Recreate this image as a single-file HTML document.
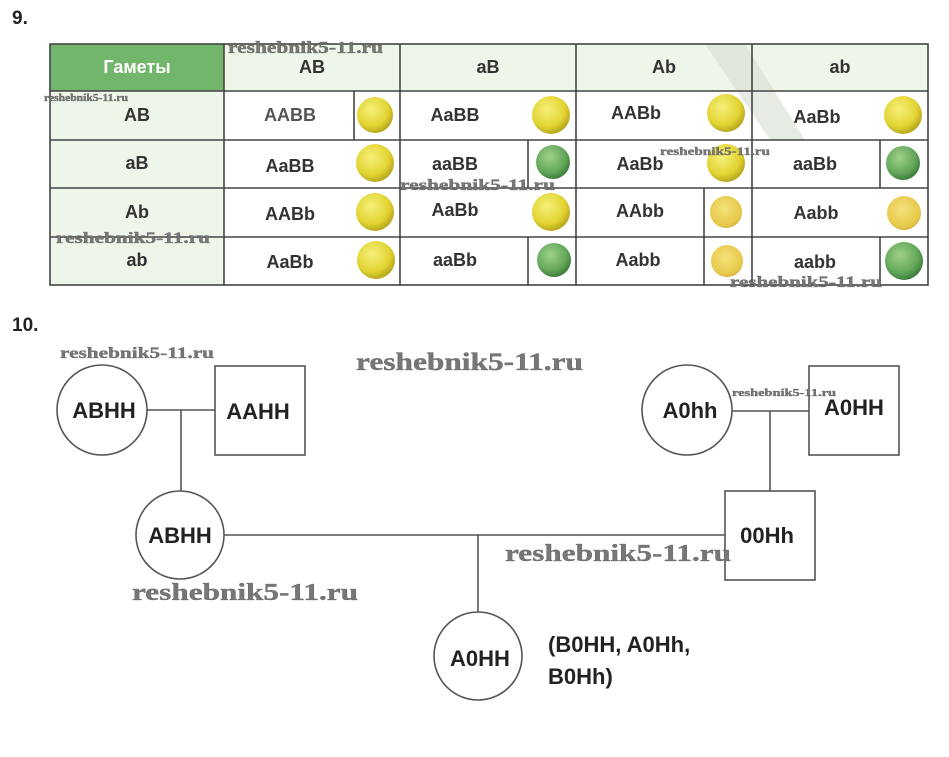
<!DOCTYPE html>
<html><head><meta charset="utf-8"><style>
html,body{margin:0;padding:0;background:#fff;}
body{width:949px;height:757px;overflow:hidden;position:relative;font-family:"Liberation Sans",sans-serif;}
</style></head><body>
<svg width="949" height="757" viewBox="0 0 949 757" xmlns="http://www.w3.org/2000/svg" style="position:absolute;left:0;top:0">
<defs>
<radialGradient id="y" cx="40%" cy="35%" r="65%"><stop offset="0" stop-color="#f6f07a"/><stop offset="0.7" stop-color="#e2d434"/><stop offset="1" stop-color="#b9a91e"/></radialGradient>
<radialGradient id="g" cx="40%" cy="35%" r="65%"><stop offset="0" stop-color="#9fd08a"/><stop offset="0.7" stop-color="#64a85a"/><stop offset="1" stop-color="#3f7f3c"/></radialGradient>
<radialGradient id="w" cx="45%" cy="40%" r="65%"><stop offset="0" stop-color="#f3e27a"/><stop offset="0.8" stop-color="#e6c84a"/><stop offset="1" stop-color="#c9a636"/></radialGradient>
</defs>
<text x="12" y="24" font-size="19" font-weight="bold" font-family="Liberation Sans" fill="#222">9.</text>
<text x="12" y="331" font-size="19" font-weight="bold" font-family="Liberation Sans" fill="#222">10.</text>
<rect x="50" y="44" width="174" height="47" fill="#72b66b"/>
<rect x="224" y="44" width="704" height="47" fill="#eef5e9"/>
<rect x="50" y="91" width="174" height="194" fill="#eef6ea"/>
<polygon points="705,44 745,44 805,140 770,140" fill="#d5dfd2" opacity="0.6"/>
<g stroke="#444" stroke-width="1.6" fill="none">
<rect x="50" y="44" width="878" height="241"/>
<line x1="50" y1="91" x2="928" y2="91"/>
<line x1="50" y1="140" x2="928" y2="140"/>
<line x1="50" y1="188" x2="928" y2="188"/>
<line x1="50" y1="237" x2="928" y2="237"/>
<line x1="224" y1="44" x2="224" y2="285"/>
<line x1="400" y1="44" x2="400" y2="285"/>
<line x1="576" y1="44" x2="576" y2="285"/>
<line x1="752" y1="44" x2="752" y2="285"/>
<line x1="354" y1="91" x2="354" y2="140"/>
<line x1="528" y1="140" x2="528" y2="188"/>
<line x1="528" y1="237" x2="528" y2="285"/>
<line x1="704" y1="188" x2="704" y2="285"/>
<line x1="880" y1="140" x2="880" y2="188"/>
<line x1="880" y1="237" x2="880" y2="285"/>
</g>
<g font-family="Liberation Sans" font-weight="bold" font-size="18" fill="#333" text-anchor="middle">
<text x="137" y="73" fill="#fff">Гаметы</text>
<text x="312" y="73">AB</text><text x="488" y="73">aB</text><text x="664" y="73">Ab</text><text x="840" y="73">ab</text>
<text x="137" y="121">AB</text><text x="137" y="169">aB</text><text x="137" y="218">Ab</text><text x="137" y="266">ab</text>
<text x="290" y="121" fill="#555">AABB</text><text x="455" y="121">AaBB</text><text x="636" y="119">AABb</text><text x="817" y="123">AaBb</text>
<text x="290" y="172">AaBB</text><text x="455" y="170">aaBB</text><text x="640" y="170">AaBb</text><text x="815" y="170">aaBb</text>
<text x="290" y="220">AABb</text><text x="455" y="216">AaBb</text><text x="640" y="217">AAbb</text><text x="816" y="219">Aabb</text>
<text x="290" y="268">AaBb</text><text x="455" y="266">aaBb</text><text x="638" y="266">Aabb</text><text x="815" y="268">aabb</text>
</g>
<g>
<circle cx="375" cy="115" r="18" fill="url(#y)"/><circle cx="551" cy="115" r="19" fill="url(#y)"/><circle cx="726" cy="113" r="19" fill="url(#y)"/><circle cx="903" cy="115" r="19" fill="url(#y)"/>
<circle cx="375" cy="163" r="19" fill="url(#y)"/><circle cx="553" cy="162" r="17" fill="url(#g)"/><circle cx="726" cy="163" r="19" fill="url(#y)"/><circle cx="903" cy="163" r="17" fill="url(#g)"/>
<circle cx="375" cy="212" r="19" fill="url(#y)"/><circle cx="551" cy="212" r="19" fill="url(#y)"/><circle cx="726" cy="212" r="16" fill="url(#w)"/><circle cx="904" cy="213" r="17" fill="url(#w)"/>
<circle cx="376" cy="260" r="19" fill="url(#y)"/><circle cx="554" cy="260" r="17" fill="url(#g)"/><circle cx="727" cy="261" r="16" fill="url(#w)"/><circle cx="904" cy="261" r="19" fill="url(#g)"/>
</g>
<g stroke="#555" stroke-width="1.6" fill="none">
<circle cx="102" cy="410" r="45"/>
<rect x="215" y="366" width="90" height="89"/>
<line x1="147" y1="410" x2="215" y2="410"/>
<line x1="181" y1="410" x2="181" y2="491"/>
<circle cx="180" cy="535" r="44"/>
<line x1="224" y1="535" x2="725" y2="535"/>
<circle cx="687" cy="410" r="45"/>
<rect x="809" y="366" width="90" height="89"/>
<line x1="732" y1="411" x2="809" y2="411"/>
<line x1="770" y1="411" x2="770" y2="491"/>
<rect x="725" y="491" width="90" height="89"/>
<line x1="478" y1="535" x2="478" y2="612"/>
<circle cx="478" cy="656" r="44"/>
</g>
<g font-family="Liberation Sans" font-weight="bold" font-size="22" fill="#222" text-anchor="middle">
<text x="104" y="418">ABHH</text>
<text x="258" y="419">AAHH</text>
<text x="180" y="543">ABHH</text>
<text x="690" y="418">A0hh</text>
<text x="854" y="415">A0HH</text>
<text x="767" y="543">00Hh</text>
<text x="480" y="666">A0HH</text>
</g>
<g font-family="Liberation Sans" font-weight="bold" font-size="22" fill="#222">
<text x="548" y="652">(B0HH, A0Hh,</text>
<text x="548" y="684">B0Hh)</text>
</g>
<g font-family="Liberation Serif" font-weight="bold" fill="#777" stroke="#555" stroke-width="0.3" lengthAdjust="spacingAndGlyphs">
<text x="228" y="53" font-size="17" textLength="155" lengthAdjust="spacingAndGlyphs">reshebnik5-11.ru</text>
<text x="44" y="101" font-size="10" textLength="84" lengthAdjust="spacingAndGlyphs">reshebnik5-11.ru</text>
<text x="400" y="190" font-size="16" textLength="155" lengthAdjust="spacingAndGlyphs">reshebnik5-11.ru</text>
<text x="660" y="155" font-size="12" textLength="110" lengthAdjust="spacingAndGlyphs">reshebnik5-11.ru</text>
<text x="56" y="243" font-size="16" textLength="154" lengthAdjust="spacingAndGlyphs">reshebnik5-11.ru</text>
<text x="730" y="287" font-size="16" textLength="152" lengthAdjust="spacingAndGlyphs">reshebnik5-11.ru</text>
<text x="60" y="358" font-size="16" textLength="154" lengthAdjust="spacingAndGlyphs">reshebnik5-11.ru</text>
<text x="356" y="370" font-size="25" textLength="227" lengthAdjust="spacingAndGlyphs">reshebnik5-11.ru</text>
<text x="732" y="396" font-size="10" textLength="104" lengthAdjust="spacingAndGlyphs">reshebnik5-11.ru</text>
<text x="132" y="600" font-size="24" textLength="226" lengthAdjust="spacingAndGlyphs">reshebnik5-11.ru</text>
<text x="505" y="561" font-size="24" textLength="226" lengthAdjust="spacingAndGlyphs">reshebnik5-11.ru</text>
</g>
</svg>
</body></html>
